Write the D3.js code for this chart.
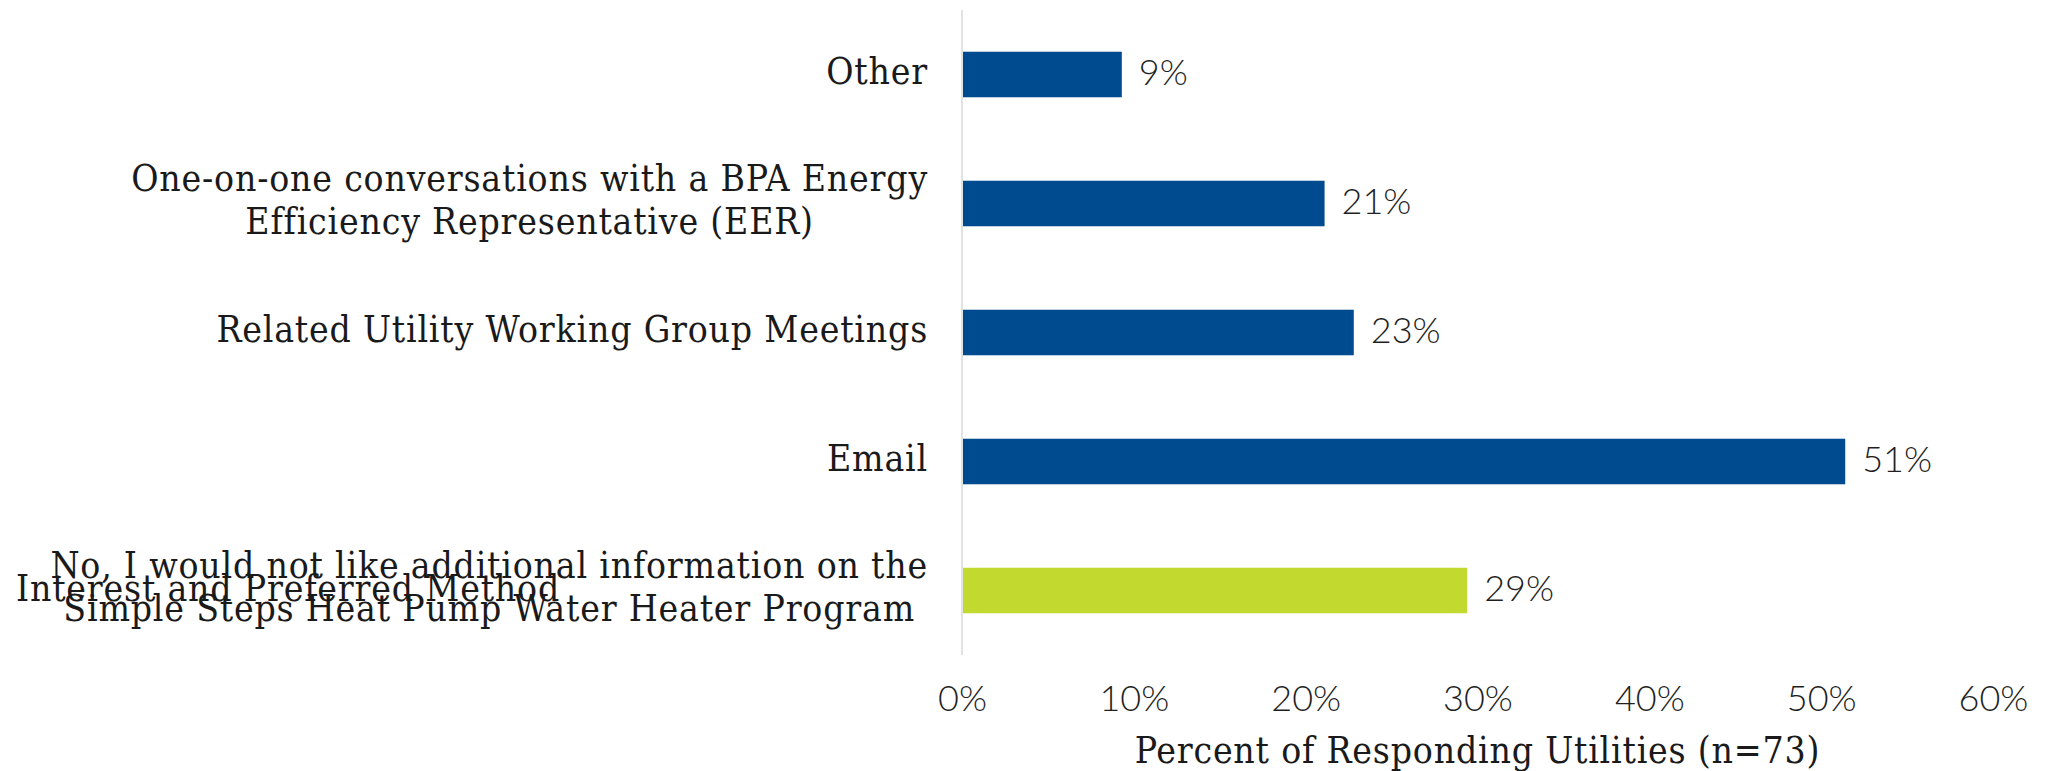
<!DOCTYPE html>
<html>
<head>
<meta charset="utf-8">
<script src="https://cdn.jsdelivr.net/npm/d3@7"></script>
<style>
  html, body { margin: 0; padding: 0; background: #fff; }
  svg { display: block; }
  .cat { font-family: 'DejaVu Serif', serif; font-stretch: condensed; font-size: 37px; letter-spacing: 0.8px; fill: #1a1a1a; }
  .num { font-family: Lato, 'Open Sans', sans-serif; font-weight: 300; font-size: 36px; fill: #1f1f1f; }
</style>
</head>
<body>
<svg id="chart"></svg>
<script>
const width = 2046
const height = 771

// categories, top to bottom; each entry is the lines of its label
const categories = ['Other', 'EER', 'Meetings', 'Email', 'No']
const categoryLines = [
  ['Other'],
  ['One-on-one conversations with a BPA Energy', 'Efficiency Representative (EER)'],
  ['Related Utility Working Group Meetings'],
  ['Email'],
  ['No, I would not like additional information on the', 'Simple Steps Heat Pump Water Heater Program'],
]
const values = [0.093, 0.211, 0.228, 0.514, 0.294]
const barColors = ['#004a8f', '#004a8f', '#004a8f', '#004a8f', '#c2d92f']
const xTicks = [0, 0.1, 0.2, 0.3, 0.4, 0.5, 0.6]
const xTitle = 'Percent of Responding Utilities (n=73)'
const yTitle = 'Interest and Preferred Method'

const data = categories.map((c, i) => ({ key: c, lines: categoryLines[i], value: values[i], color: barColors[i] }))

const svg = d3.select('#chart').attr('width', width).attr('height', height)

const x = d3.scaleLinear().domain([0, 0.6]).range([962, 1993])
const y = d3
  .scaleBand()
  .domain(categories)
  .range([10, 655])
  .paddingInner(0.647)
  .paddingOuter(0.3235)

// vertical axis line
svg
  .append('line')
  .attr('x1', x(0))
  .attr('x2', x(0))
  .attr('y1', 10)
  .attr('y2', 655)
  .attr('stroke', '#d9d9d9')
  .attr('stroke-width', 1.5)

// bars
svg
  .append('g')
  .selectAll('rect')
  .data(data)
  .enter()
  .append('rect')
  .attr('x', x(0) + 1)
  .attr('y', (d) => y(d.key))
  .attr('width', (d) => x(d.value) - x(0) - 1)
  .attr('height', y.bandwidth())
  .attr('fill', (d) => d.color)

// value labels
svg
  .append('g')
  .selectAll('text')
  .data(data)
  .enter()
  .append('text')
  .attr('class', 'num')
  .attr('x', (d) => x(d.value) + 17)
  .attr('y', (d) => y(d.key) + y.bandwidth() / 2)
  .attr('dy', '0.3em')
  .text((d) => Math.round(d.value * 100) + '%')

// x axis tick labels
const xAxis = d3
  .axisBottom(x)
  .tickValues(xTicks)
  .tickSize(0)
  .tickPadding(0)
  .tickFormat((d) => Math.round(d * 100) + '%')

const gx = svg.append('g').attr('transform', 'translate(0,711)').call(xAxis)
gx.select('.domain').remove()
gx.selectAll('text')
  .attr('class', 'num')
  .attr('dy', 0)
  .attr('y', 0)

// category labels, multi-line blocks right-aligned, lines centered inside
const lineHeight = 43
const labelRight = 928
const labels = svg.append('g')
data.forEach((d) => {
  const g = labels.append('g')
  const cy = y(d.key) + y.bandwidth() / 2
  const n = d.lines.length
  const texts = g
    .selectAll('text')
    .data(d.lines)
    .enter()
    .append('text')
    .attr('class', 'cat')
    .attr('y', (l, i) => cy + (i - (n - 1) / 2) * lineHeight)
    .attr('dy', '0.25em')
    .text((l) => l)
  let w = 0
  texts.each(function () {
    w = Math.max(w, this.getComputedTextLength())
  })
  texts.attr('x', labelRight - w / 2).attr('text-anchor', 'middle')
})

// y axis title (sits over the last label, as in the source)
svg
  .append('text')
  .attr('class', 'cat')
  .attr('x', 16)
  .attr('y', 588)
  .attr('dy', '0.36em')
  .text(yTitle)

// x axis title
svg
  .append('text')
  .attr('class', 'cat')
  .attr('x', (x(0) + x(0.6)) / 2)
  .attr('y', 763)
  .attr('text-anchor', 'middle')
  .text(xTitle)
</script>
</body>
</html>
